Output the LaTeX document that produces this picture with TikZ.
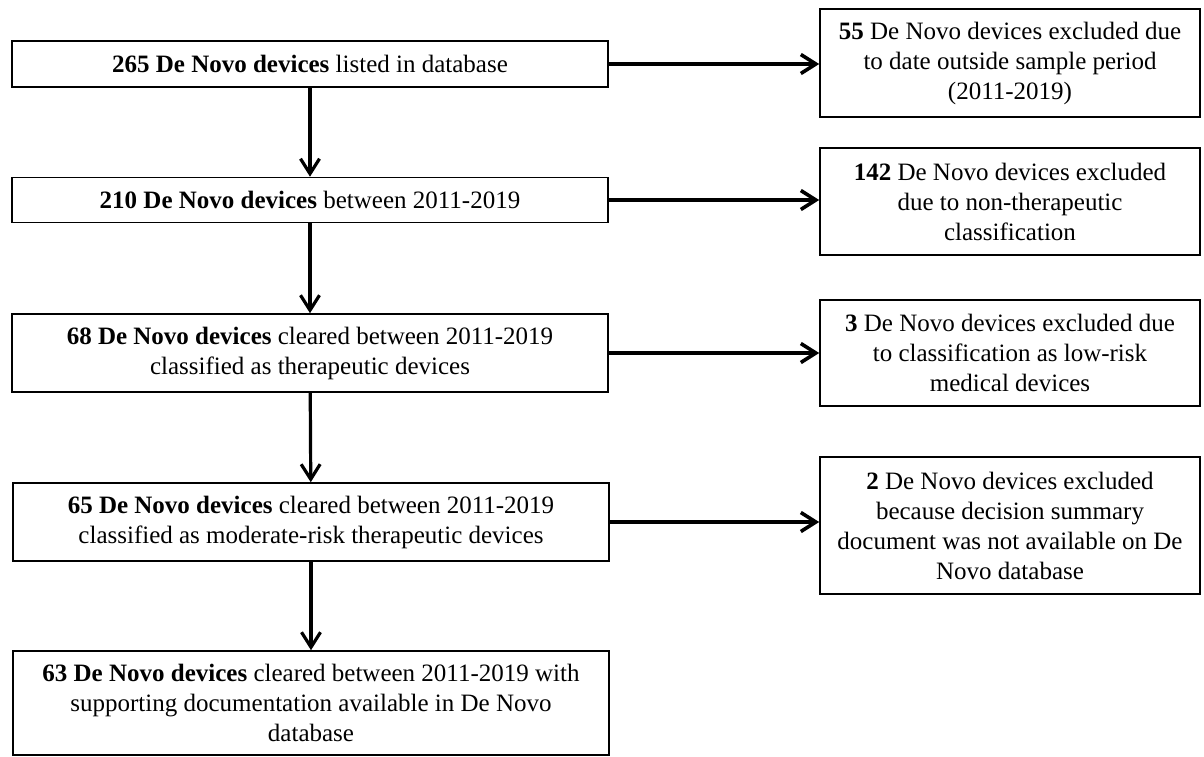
\documentclass[tikz,border=0pt]{standalone}
\usepackage{fontspec}
\setmainfont{Liberation Serif}
\usepackage{tikz}
\usetikzlibrary{arrows.meta}
\tikzstyle{keep} = [rectangle, minimum width=298pt, text centered, align=center, draw=black, line width=0.8pt, fill=white, inner sep=0pt, font=\fontsize{12.5}{15}\selectfont]
\tikzstyle{drop} = [rectangle, minimum width=190pt, text centered, align=center, draw=black, line width=0.8pt, fill=white, inner sep=0pt, font=\fontsize{12.5}{15}\selectfont]
\tikzstyle{arrow} = [-{Straight Barb[length=7.5pt,width=9.5pt]}, line width=1.6pt]

\begin{document}
\begin{tikzpicture}[x=0.5pt,y=-0.5pt]
	\useasboundingbox (0,0) rectangle (1204,756);
	\node (dev265) [keep, minimum height=23pt] at (310,64) {\textbf{265 De Novo devices} listed in database};
	\node (dev210) [keep, minimum height=22.5pt] at (310,200) {\textbf{210 De Novo devices} between 2011-2019};
	\node (dev68) [keep, minimum height=39pt] at (310,353) {\textbf{68 De Novo devices} cleared between 2011-2019\\classified as therapeutic devices};
	\node (dev65) [keep, minimum height=39pt] at (311,522) {\textbf{65 De Novo devices} cleared between 2011-2019\\classified as moderate-risk therapeutic devices};
	\node (dev63) [keep, minimum height=52pt] at (311,703) {\textbf{63 De Novo devices} cleared between 2011-2019 with\\supporting documentation available in De Novo\\database};
	
	\node (out55) [drop, minimum height=54pt] at (1010,63) {\textbf{55} De Novo devices excluded due\\to date outside sample period\\(2011-2019)};
	\node (out142) [drop, minimum height=53.5pt] at (1010,201.5) {\textbf{142} De Novo devices excluded\\due to non-therapeutic\\classification};
	\node (out3) [drop, minimum height=53pt] at (1010,353) {\textbf{3} De Novo devices excluded due\\to classification as low-risk\\medical devices};
	\node (out2) [drop, minimum height=68.5pt] at (1010,525.7) {\textbf{2} De Novo devices excluded\\because decision summary\\document was not available on De\\Novo database};
	
	\draw [arrow](dev265) -- (dev210);
	\draw [arrow](dev210) -- (dev68);
	\draw [arrow](dev68) -- (dev65);
	\draw [arrow](dev65) -- (dev63);
	\draw [arrow, line width=1.8pt](dev265) -- (dev265 -| out55.west);
	\draw [arrow, line width=1.8pt](dev210) -- (dev210 -| out142.west);
	\draw [arrow, line width=1.8pt](dev68) -- (dev68 -| out3.west);
	\draw [arrow, line width=1.8pt](dev65) -- (dev65 -| out2.west);
\end{tikzpicture}
\end{document}
